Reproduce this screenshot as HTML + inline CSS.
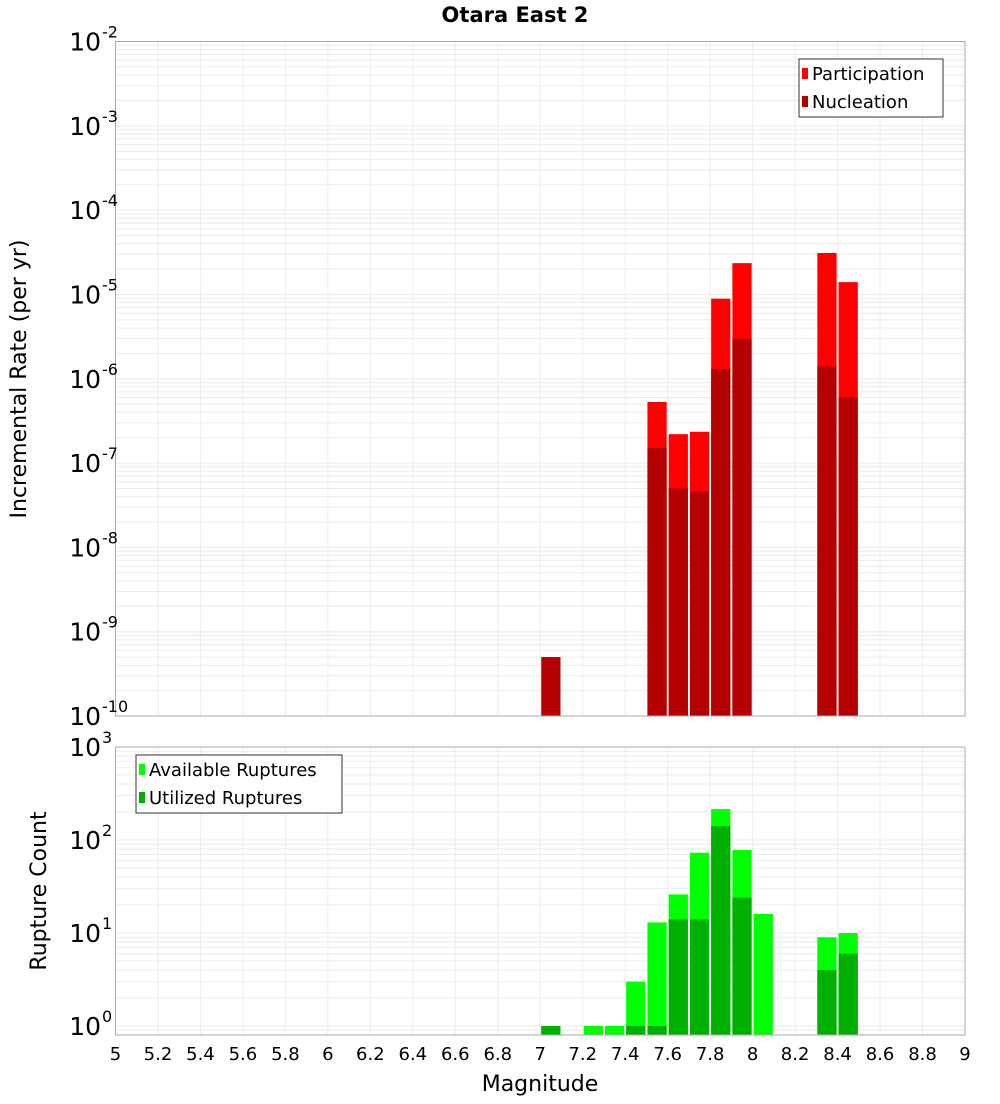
<!DOCTYPE html>
<html><head><meta charset="utf-8"><style>
body{margin:0;background:#fff;font-family:"DejaVu Sans","Liberation Sans",sans-serif;}
svg text{font-family:"DejaVu Sans","Liberation Sans",sans-serif;}
</style></head><body>
<svg id="c" width="1000" height="1100" xmlns="http://www.w3.org/2000/svg"></svg>
<script>
const mags=[7.0,7.5,7.6,7.7,7.8,7.9,8.3,8.4];
const participation=[0,5.3e-7,2.2e-7,2.35e-7,8.9e-6,2.35e-5,3.1e-5,1.4e-5];
const nucleation=[5e-10,1.5e-7,5e-8,4.6e-8,1.3e-6,2.97e-6,1.4e-6,6e-7];
const cntMags=[7.0,7.2,7.3,7.4,7.5,7.6,7.7,7.8,7.9,8.0,8.3,8.4];
const available=[1,1,1,3,13,26,73,215,78,16,9,10];
const utilized=[1,0,0,1,1,14,14,141,24,0,4,6];
const xTicks=[5,5.2,5.4,5.6,5.8,6,6.2,6.4,6.6,6.8,7,7.2,7.4,7.6,7.8,8,8.2,8.4,8.6,8.8,9];
const topDecades=[-2,-3,-4,-5,-6,-7,-8,-9,-10];
const botDecades=[3,2,1,0];

const S=document.getElementById('c'),NS='http://www.w3.org/2000/svg';
function el(t,a,p){const e=document.createElementNS(NS,t);for(const k in a)e.setAttribute(k,a[k]);(p||S).appendChild(e);return e;}
const X0=115.5,X1=965;
const x=m=>X0+(m-5)/4*(X1-X0);
const T0=41.5,T1=716;
const yTop=v=>T0+(-2-Math.log10(v))*(T1-T0)/8;
const B0=747,B1=1035,bDec=93;
const yBot=v=>B0+(3-Math.log10(v))*bDec;

function grid(y0,y1,lo,hi,yf,name){
  const g=el('g',{});
  for(let d=lo;d<hi;d++)for(let k=1;k<10;k++){const yy=yf(k*Math.pow(10,d));if(yy>=y0&&yy<=y1)el('line',{x1:X0,x2:X1,y1:yy,y2:yy,stroke:'#ebebeb','stroke-width':1},g);}
  xTicks.forEach(t=>{el('line',{x1:x(t),x2:x(t),y1:y0,y2:y1,stroke:'#ebebeb','stroke-width':1},g);});
}
grid(T0,T1,-10,-2,yTop,'top-grid');
grid(B0,B1,-1,3,yBot,'bottom-grid');

const bw=(x(5.1)-x(5))-2;
mags.forEach((m,i)=>{
  if(participation[i]>0){const r=el('rect',{x:x(m)+1,y:yTop(participation[i]),width:bw,height:T1-yTop(participation[i]),fill:'#ff0000'});
  }
  const r2=el('rect',{x:x(m)+1,y:yTop(nucleation[i]),width:bw,height:T1-yTop(nucleation[i]),fill:'#b30000'});
  
});
cntMags.forEach((m,i)=>{
  if(available[i]>0){const r=el('rect',{x:x(m)+1,y:yBot(available[i]),width:bw,height:B1-yBot(available[i]),fill:'#00ff00'});
  }
  if(utilized[i]>0){const r2=el('rect',{x:x(m)+1,y:yBot(utilized[i]),width:bw,height:B1-yBot(utilized[i]),fill:'#00b000'});
  }
});
const f1=el('rect',{x:X0,y:T0,width:X1-X0,height:T1-T0,fill:'none',stroke:'#aaa'});

const f2=el('rect',{x:X0,y:B0,width:X1-X0,height:B1-B0,fill:'none',stroke:'#aaa'});


function ylab(d,yy,name){
  const t=el('text',{x:101,y:yy+9,'font-size':25,'text-anchor':'end',fill:'#000'});t.textContent='10';
  
  const e=el('text',{x:102,y:yy-4,'font-size':16,fill:'#000'});e.textContent=String(d);
  
}
topDecades.forEach(d=>ylab(d,yTop(Math.pow(10,d)),'top-y-tick'));
botDecades.forEach(d=>ylab(d,yBot(Math.pow(10,d)),'bottom-y-tick'));
xTicks.forEach(t=>{const e=el('text',{x:x(t),y:1060,'font-size':18,'text-anchor':'middle',fill:'#000'});e.textContent=String(t);
  });

function txt(s,a,name){const e=el('text',a);e.textContent=s;return e;}
txt('Otara East 2',{x:515,y:22,'font-size':21,'font-weight':'bold','text-anchor':'middle'},'chart-title');
txt('Magnitude',{x:540,y:1091,'font-size':22,'text-anchor':'middle'},'x-axis-title');
txt('Incremental Rate (per yr)',{x:0,y:0,'font-size':22,'text-anchor':'middle',transform:'translate(26,379) rotate(-90)'},'top-y-axis-title');
txt('Rupture Count',{x:0,y:0,'font-size':22,'text-anchor':'middle',transform:'translate(46,891) rotate(-90)'},'bottom-y-axis-title');

function legend(x0,y0,w,items,name){
  const g=el('g',{});
  el('rect',{x:x0,y:y0,width:w,height:58,fill:'#fff',stroke:'#333'},g);
  items.forEach((it,i)=>{el('rect',{x:x0+3,y:y0+9+i*28,width:6,height:11,fill:it[1]},g);
    const t=el('text',{x:x0+13,y:y0+21+i*28,'font-size':18},g);t.textContent=it[0];});
}
legend(799,59,144,[['Participation','#ff0000'],['Nucleation','#b30000']],'top-legend');
legend(136,755,206,[['Available Ruptures','#00ff00'],['Utilized Ruptures','#00b000']],'bottom-legend');
</script>
</body></html>
